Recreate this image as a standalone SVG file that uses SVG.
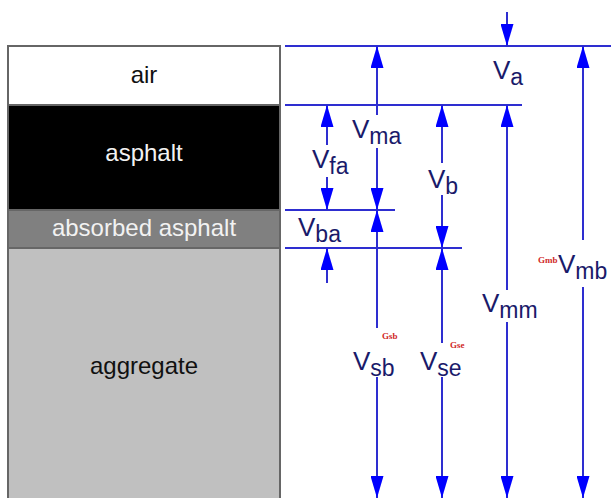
<svg xmlns="http://www.w3.org/2000/svg" width="611" height="498" viewBox="0 0 611 498">
<style>
.layer{stroke:#666;stroke-width:2}
.lt{font-family:"Liberation Sans",Arial,sans-serif;font-size:24px;text-anchor:middle}
.hl{stroke:#2e2ed0;stroke-width:2;fill:none}
.ar{stroke:#2e2ed0;stroke-width:2;fill:none;marker-end:url(#ah)}
.v{font-family:"Liberation Sans",Arial,sans-serif;font-size:26px;fill:#1a1a6a}
.s{font-size:23px}
.g{font-family:"Liberation Serif","Times New Roman",serif;font-size:9px;font-weight:bold;fill:#d02828}
</style>
<defs>
<marker id="ah" markerUnits="userSpaceOnUse" markerWidth="22" markerHeight="13" refX="22" refY="6.5" orient="auto">
<path d="M0,0 L22,6.5 L0,13 z" fill="#0000ff"/>
</marker>
</defs>
<rect width="611" height="498" fill="#fff"/>
<g id="aggregate">
<rect class="layer" x="8" y="248" width="272" height="252" fill="#c0c0c0"/>
<text class="lt" x="144" y="374" fill="#111">aggregate</text>
</g>
<g id="absorbed">
<rect class="layer" x="8" y="210" width="272" height="38" fill="#808080"/>
<text class="lt" x="144" y="236" fill="#f2f2f2">absorbed asphalt</text>
</g>
<g id="asphalt">
<rect class="layer" x="8" y="105" width="272" height="105" fill="#000"/>
<text class="lt" x="144" y="161" fill="#f2f2f2">asphalt</text>
</g>
<g id="air">
<rect class="layer" x="8" y="46" width="272" height="59" fill="#fff"/>
<text class="lt" x="144" y="83" fill="#111">air</text>
</g>
<g id="connectors">
<line class="hl" x1="285" y1="46" x2="611" y2="46"/>
<line class="hl" x1="285" y1="105" x2="522" y2="105"/>
<line class="hl" x1="285" y1="210" x2="395" y2="210"/>
<line class="hl" x1="285" y1="248" x2="462" y2="248"/>
<line class="ar" x1="507" y1="12" x2="507" y2="46"/>
<line class="ar" x1="377" y1="115" x2="377" y2="46"/>
<line class="ar" x1="377" y1="148" x2="377" y2="210"/>
<line class="ar" x1="377" y1="328" x2="377" y2="210"/>
<line class="ar" x1="377" y1="377" x2="377" y2="498"/>
<line class="ar" x1="327" y1="145" x2="327" y2="105"/>
<line class="ar" x1="327" y1="177" x2="327" y2="210"/>
<line class="ar" x1="327" y1="283" x2="327" y2="248"/>
<line class="ar" x1="442" y1="163" x2="442" y2="105"/>
<line class="ar" x1="442" y1="195" x2="442" y2="248"/>
<line class="ar" x1="442" y1="343" x2="442" y2="248"/>
<line class="ar" x1="442" y1="377" x2="442" y2="498"/>
<line class="ar" x1="507" y1="290" x2="507" y2="105"/>
<line class="ar" x1="507" y1="322" x2="507" y2="498"/>
<line class="ar" x1="583" y1="240" x2="583" y2="46"/>
<line class="ar" x1="583" y1="287" x2="583" y2="498"/>
</g>
<g id="labels">
<text class="v" x="493" y="79">V<tspan class="s" dy="6">a</tspan></text>
<text class="v" x="352" y="138">V<tspan class="s" dy="6">ma</tspan></text>
<text class="v" x="312" y="168">V<tspan class="s" dy="6">fa</tspan></text>
<text class="v" x="428" y="188">V<tspan class="s" dy="6">b</tspan></text>
<text class="v" x="298" y="236">V<tspan class="s" dy="6">ba</tspan></text>
<text class="v" x="353" y="370">V<tspan class="s" dy="6">sb</tspan></text>
<text class="v" x="420" y="370">V<tspan class="s" dy="6">se</tspan></text>
<text class="v" x="482" y="312">V<tspan class="s" dy="6">mm</tspan></text>
<text class="v" x="558" y="273">V<tspan class="s" dy="6">mb</tspan></text>
<text class="g" x="382" y="339">Gsb</text>
<text class="g" x="450" y="348">Gse</text>
<text class="g" x="538" y="263">Gmb</text>
</g>
</svg>
